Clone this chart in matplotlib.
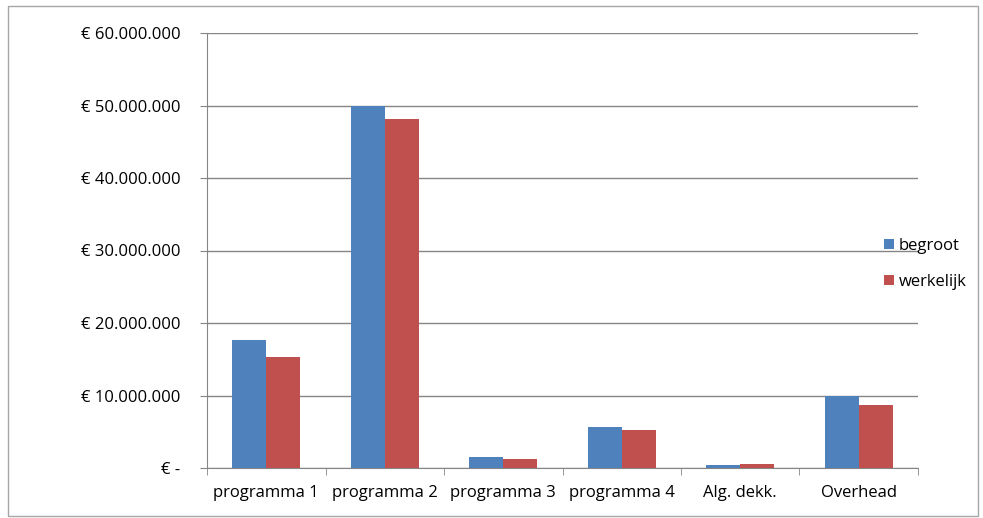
import matplotlib.pyplot as plt
import numpy as np
from matplotlib.patches import Rectangle

# categories and values (euro)
categories = ['programma 1', 'programma 2', 'programma 3', 'programma 4', 'Alg. dekk.', 'Overhead']
begroot = [17700000, 50000000, 1480000, 5700000, 420000, 9950000]
werkelijk = [15250000, 48100000, 1250000, 5300000, 600000, 8750000]
yticks = [0, 10000000, 20000000, 30000000, 40000000, 50000000, 60000000]
ytick_labels = ['€ -', '€ 10.000.000', '€ 20.000.000', '€ 30.000.000',
                '€ 40.000.000', '€ 50.000.000', '€ 60.000.000']

plt.rcParams['font.family'] = ['Open Sans', 'DejaVu Sans']

W, H = 983, 518
fig = plt.figure(figsize=(W / 100, H / 100), dpi=100)

# outer chart border
fig.patches.append(Rectangle((8 / W, 1 - 516 / H), 970 / W, 510 / H, transform=fig.transFigure,
                             fill=False, edgecolor='#a6a6a6', linewidth=1))

ax = fig.add_axes([207 / W, 1 - 468 / H, (918 - 207) / W, (468 - 33) / H])

x = np.arange(len(categories))
w = 1 / 3.5  # excel gap width 150%
ax.bar(x - w / 2, begroot, width=w, color='#4F81BD', label='begroot', zorder=3)
ax.bar(x + w / 2, werkelijk, width=w, color='#C0504D', label='werkelijk', zorder=3)

ax.set_xlim(-0.5, len(categories) - 0.5)
ax.set_ylim(0, 60000000)
ax.set_yticks(yticks)
ax.set_yticklabels(ytick_labels)
ax.set_xticks(x)
ax.set_xticklabels(categories)
ax.set_xticks(np.arange(-0.5, len(categories)), minor=True)

ax.grid(axis='y', color='#868686', linewidth=1, zorder=0)
for s in ['top', 'right']:
    ax.spines[s].set_visible(False)
for s in ['left', 'bottom']:
    ax.spines[s].set_color('#868686')

ax.tick_params(axis='y', length=5, color='#868686', pad=14, labelsize=12, labelcolor='black')
ax.tick_params(axis='x', which='major', length=0, pad=12, labelsize=12, labelcolor='black')
ax.tick_params(axis='x', which='minor', length=5, color='#868686')

fig.legend(loc='center left', bbox_to_anchor=(869 / W, 1 - 264 / H), frameon=False,
           handlelength=0.6, handleheight=0.6, handletextpad=0.3, labelspacing=1.2,
           fontsize=12, labelcolor='black')

fig.savefig('out.png', dpi=100)
